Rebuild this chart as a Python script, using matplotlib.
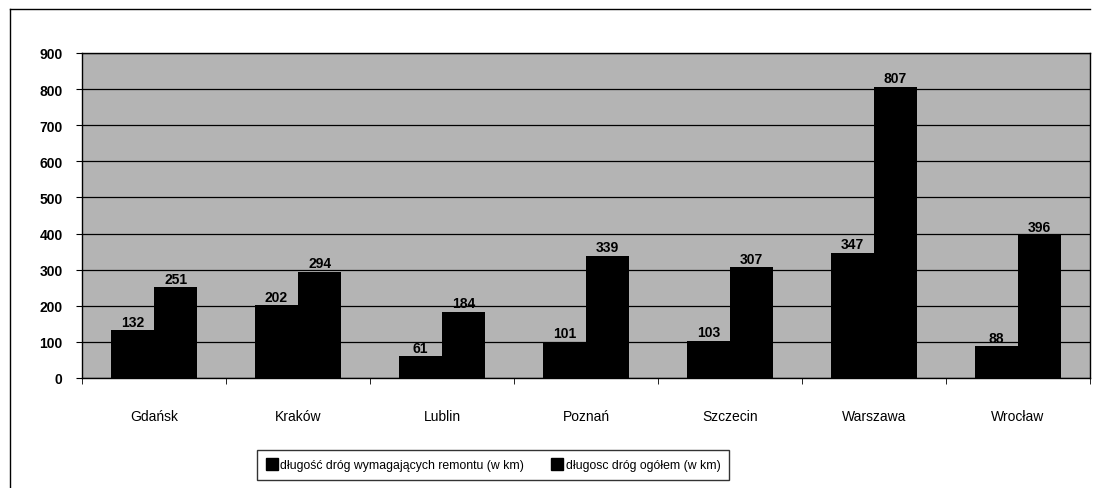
import numpy as np
import matplotlib
matplotlib.use("Agg")
import matplotlib.pyplot as plt
from matplotlib.lines import Line2D

cities = ['Gdańsk', 'Kraków', 'Lublin', 'Poznań', 'Szczecin', 'Warszawa', 'Wrocław']
remont = [132, 202, 61, 101, 103, 347, 88]
ogolem = [251, 294, 184, 339, 307, 807, 396]
series_names = ['długość dróg wymagających remontu (w km)', 'długosc dróg ogółem (w km)']

plt.rcParams['font.family'] = ['Liberation Sans', 'DejaVu Sans']

fig = plt.figure(figsize=(11.13, 4.89), dpi=100)
W, H = 1113, 489
ax = fig.add_axes([82 / W, 1 - 379 / H, (1090 - 82) / W, (379 - 54) / H])

# outer frame (top and left edge only visible)
fig.add_artist(Line2D([10 / W, 1090 / W], [1 - 10 / H, 1 - 10 / H], color='black', lw=1))
fig.add_artist(Line2D([10 / W, 10 / W], [1 - 10 / H, 0], color='black', lw=1))

ax.set_facecolor('#b4b4b4')
x = np.arange(len(cities))
w = 0.3
ax.bar(x - w / 2, remont, w, color='black', zorder=3)
ax.bar(x + w / 2, ogolem, w, color='black', zorder=3)

for i in range(len(cities)):
    ax.text(x[i] - w / 2, remont[i] + 4, str(remont[i]), ha='center', va='bottom',
            fontsize=10, fontweight='bold', zorder=4)
    ax.text(x[i] + w / 2, ogolem[i] + 4, str(ogolem[i]), ha='center', va='bottom',
            fontsize=10, fontweight='bold', zorder=4)

ax.set_xlim(-0.5, len(cities) - 0.5)
ax.set_ylim(0, 900)
ax.set_yticks(range(0, 901, 100))
ax.yaxis.grid(True, color='black', lw=0.9, zorder=1)
ax.set_axisbelow(True)

ax.set_xticks(x)
ax.set_xticklabels(cities, fontsize=10)
ax.set_xticks(np.arange(-0.5, len(cities)), minor=True)
ax.tick_params(axis='x', which='major', length=0, pad=22)
ax.tick_params(axis='x', which='minor', length=4, direction='out', color='black')
ax.tick_params(axis='y', length=4, direction='out', labelsize=10, pad=10)
for lbl in ax.get_yticklabels():
    lbl.set_fontweight('bold')

for s in ax.spines.values():
    s.set_color('black')
    s.set_linewidth(1)

handles = [Line2D([], [], marker='s', color='black', markersize=8, linestyle='none')
           for _ in series_names]
leg = fig.legend(handles, series_names, loc='center', bbox_to_anchor=(493 / W, 1 - 466 / H),
                 ncol=2, frameon=True, fancybox=False, fontsize=8.8, handletextpad=0.2,
                 columnspacing=2.2, borderpad=0.7, handlelength=1.0)
leg.get_frame().set_edgecolor('black')
leg.get_frame().set_linewidth(1)

fig.savefig('out.png', dpi=100)
